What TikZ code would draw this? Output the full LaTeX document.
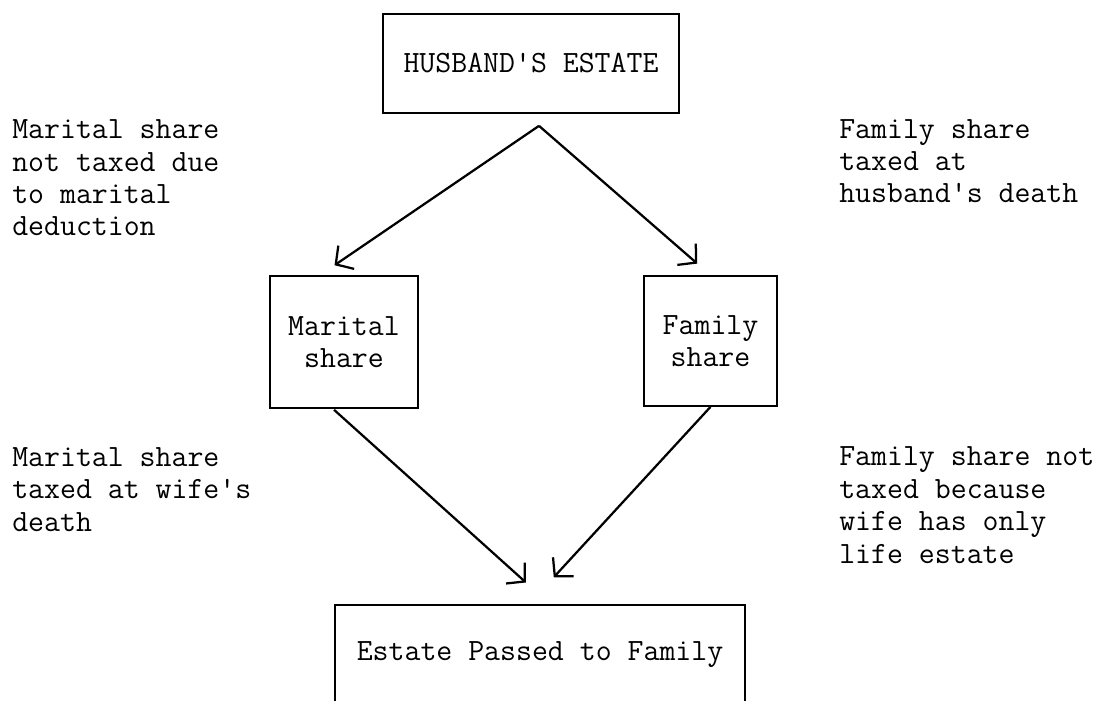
\documentclass[tikz,border=0pt]{standalone}
\usetikzlibrary{arrows.meta,calc}

\begin{document}
\begin{tikzpicture}[x=0.025cm,y=-0.025cm,
    font=\ttfamily\fontsize{22}{23.1}\selectfont,
    >={Straight Barb[length=9pt,width=20pt]},
    box/.style={draw=black,line width=1.2pt,inner sep=0pt,align=center},
    note/.style={anchor=base west,inner sep=0pt,align=left},
    link/.style={->,line width=1.6pt}]
        \clip (0,0) rectangle (1102,701);

        \node[box,minimum width=7.4cm,minimum height=2.475cm] (hus) at (531,63.5) {HUSBAND\textquotesingle S ESTATE};
        \node[box,minimum width=3.7cm,minimum height=3.3cm]   (mar) at (344,342)  {Marital\\share};
        \node[box,minimum width=3.325cm,minimum height=3.25cm] (fam) at (710.5,341) {Family\\share};
        \node[box,minimum width=10.25cm,minimum height=2.5cm] (est) at (540,655)  {Estate Passed to Family};

        % notes are placed by the baseline of their last line
        \node[note] (marnote) at (12,236)  {Marital share\\not taxed due\\to marital\\deduction};
        \node[note] (famnote) at (839,203) {Family share\\taxed at\\husband\textquotesingle s death};
        \node[note] (wifenote) at (12,531)  {Marital share\\taxed at wife\textquotesingle s\\death};
        \node[note] (lifenote) at (839,563) {Family share not\\taxed because\\wife has only\\life estate};

        \coordinate (apex) at ($(hus.south)+(8,12)$);

        \draw [link,shorten >=12.5pt] (apex) -- ($(mar.north)+(-24,0)$);
        \draw [link,shorten >=12.5pt] (apex) -- (fam.north);
        \draw [link,shorten <=1pt,shorten >=23pt] ($(mar.south)+(-11,0)$) -- ($(est.north)+(10,0)$);
        \draw [link,shorten >=26pt] (fam.south) -- ($(est.north)+(-11,0)$);

    \end{tikzpicture}
\end{document}
